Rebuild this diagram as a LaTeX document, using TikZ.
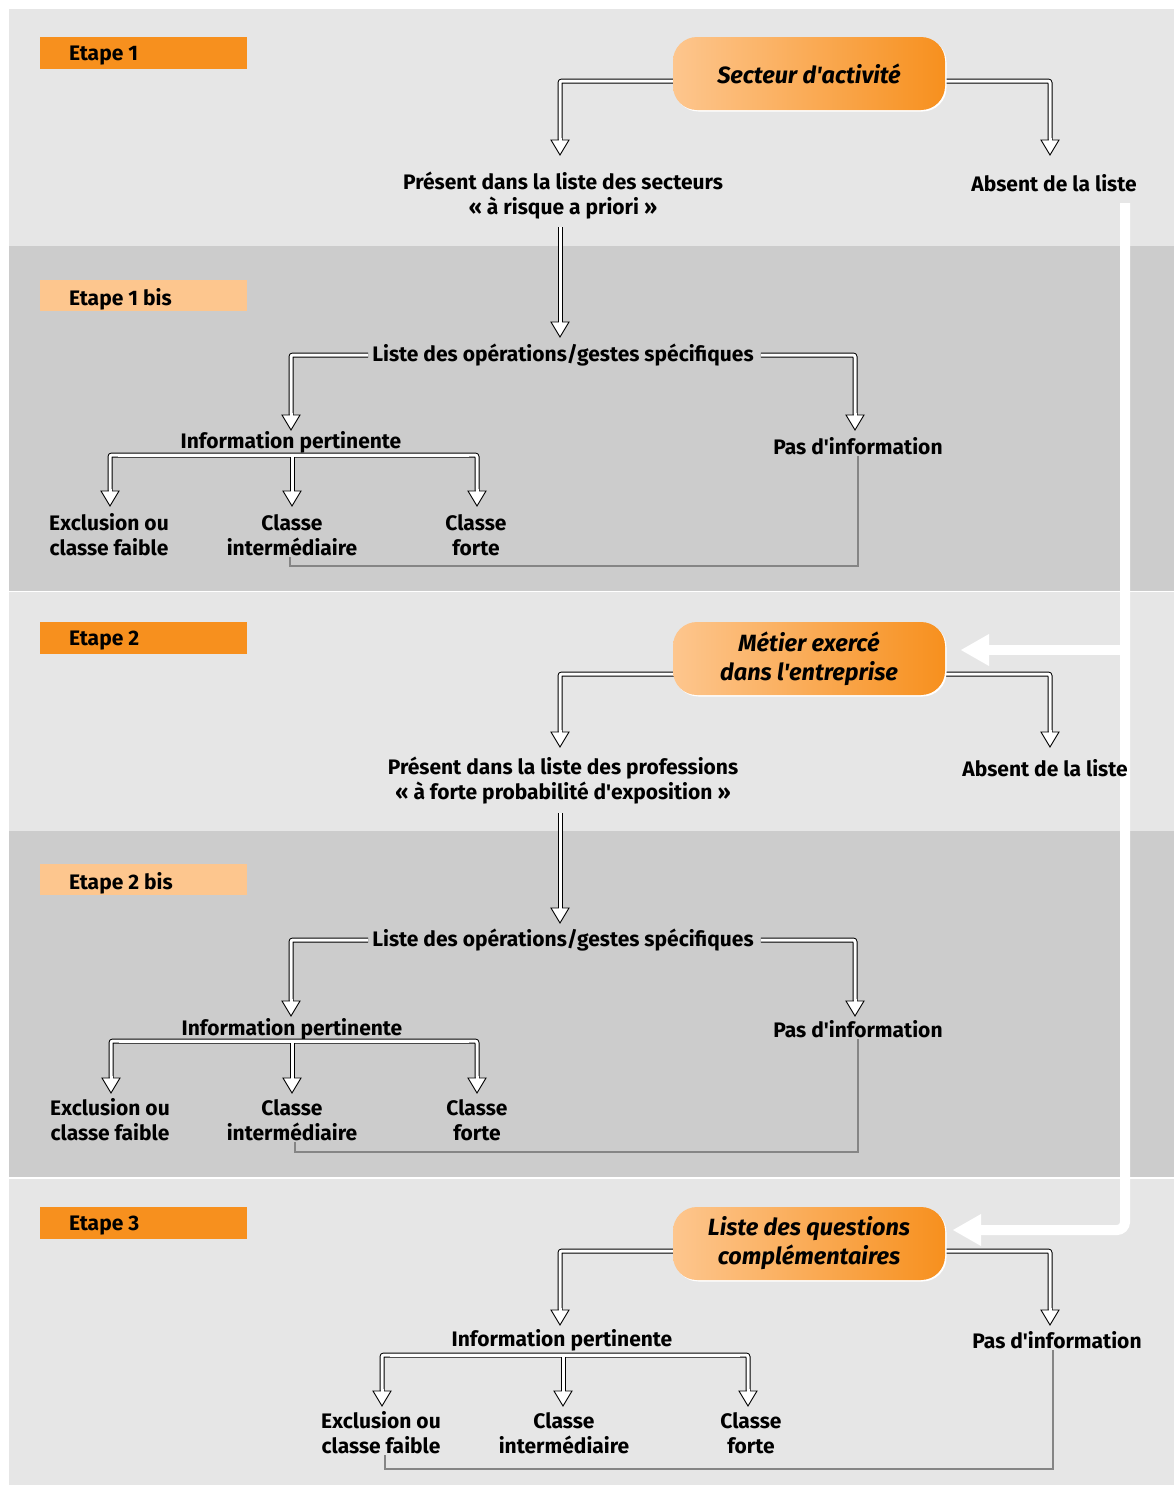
\documentclass[tikz,border=0pt]{standalone}
\usepackage{fontspec}
\setmainfont{Fira Sans}
\newfontface\sqf{Fira Sans Bold}
\newfontface\sqfi{Fira Sans Bold Italic}
\newcommand\ap{{\sqf'}}
\newcommand\api{{\sqfi'}}
\usetikzlibrary{shadows}
\definecolor{bgl}{HTML}{E6E6E6}
\definecolor{bgd}{HTML}{CCCCCC}
\definecolor{org}{HTML}{F7901E}
\definecolor{orgl}{HTML}{FDC68E}
\definecolor{lnk}{HTML}{858585}
\newcommand\dtip[1]{%
  \draw[line width=0.9pt, fill=white, line join=miter] ([shift={(-9pt,15pt)}]#1) -- (#1) -- ([shift={(9pt,15pt)}]#1) -- cycle;
  \draw[white, line width=3pt] ([yshift=17pt]#1) -- ([yshift=13.6pt]#1);}
\begin{document}
\begin{tikzpicture}[x=1pt,y=-1pt,
  lbl/.style={font=\bfseries\fontsize{21}{25}\selectfont, align=center, inner sep=1pt},
  bigbox/.style={rounded corners=24pt, minimum width=272pt, minimum height=73pt,
    left color=orgl, right color=org, align=center,
    font=\bfseries\itshape\fontsize{23.5}{29}\selectfont,
    drop shadow={fill=white, opacity=1, shadow xshift=1.5pt, shadow yshift=-1.5pt}},
  etape/.style={anchor=north west, minimum width=207pt, minimum height=32pt, inner sep=0pt},
  etxt/.style={anchor=west, font=\bfseries\fontsize{21}{24}\selectfont, inner sep=0pt},
  dbl/.style={draw=black, line width=1pt, double=white, double distance=3pt, rounded corners=2pt},
  inw/.style={white, line width=3pt},
  glink/.style={draw=lnk, line width=2pt},
  warr/.style={white, line width=10pt}]
\useasboundingbox (0,0) rectangle (1174,1486);
\fill[white] (0,0) rectangle (1174,1486);
% bands
\fill[bgl] (9,9) rectangle (1174,245.5);
\fill[bgd] (9,245.5) rectangle (1174,590.5);
\fill[bgl] (9,592) rectangle (1174,831);
\fill[bgd] (9,831) rectangle (1174,1177);
\fill[bgl] (9,1178.5) rectangle (1174,1485);
% etapes
\node[etape, fill=org] (e1) at (40,37) {};
\node[etxt] (e1t) at (69,56) {Etape 1};
\node[etape, fill=orgl, minimum height=31pt] (e1b) at (40,280) {};
\node[etxt] (e1bt) at (69,299) {Etape 1 bis};
\node[etape, fill=org] (e2) at (40,622) {};
\node[etxt] (e2t) at (69,641) {Etape 2};
\node[etape, fill=orgl, minimum height=31pt] (e2b) at (40,864) {};
\node[etxt] (e2bt) at (69,883) {Etape 2 bis};
\node[etape, fill=org] (e3) at (40,1207) {};
\node[etxt] (e3t) at (69,1226) {Etape 3};

% ---------- white feedback arrow
\coordinate (w0) at (1125,203);
\coordinate (wq) at (953,1230);
\coordinate (wm) at (961,650);
\draw[warr, rounded corners=8pt] (w0) |- ([xshift=27pt]wq);
\fill[white] (wq) -- ([shift={(28pt,16pt)}]wq) -- ([shift={(28pt,-16pt)}]wq) -- cycle;
\draw[warr] (1125,650) -- ([xshift=27pt]wm);
\fill[white] (wm) -- ([shift={(28pt,16pt)}]wm) -- ([shift={(28pt,-16pt)}]wm) -- cycle;

% ---------- stage 1
\node[lbl] (pres1) at (563,196) {Présent dans la liste des secteurs\\« à risque a priori »};
\node[lbl] (abs1) at (1054,183) {Absent de la liste};
\coordinate (t11) at (560,155);
\coordinate (t12) at (1050,155);
\coordinate (t13) at (560,337);
\draw[dbl] (700,81) -| ([yshift=15pt]t11);
\draw[dbl] (900,81) -| ([yshift=15pt]t12);
\dtip{t11} \dtip{t12}
\node[bigbox] (sect) at (809,73.5) {Secteur d\api activité};
\draw[dbl] (560,227) -- ([yshift=15pt]t13);
\dtip{t13}

% ---------- stage 1 bis
\node[lbl] (lo1) at (563,355) {Liste des opérations/gestes spécifiques};
\node[lbl] (ip1) at (291,442) {Information pertinente};
\node[lbl] (pi1) at (858,446) {Pas d\ap information};
\node[lbl] (ef1) at (109,535) {Exclusion ou\\classe faible};
\node[lbl] (ci1) at (292,535) {Classe\\intermédiaire};
\node[lbl] (cf1) at (476,535) {Classe\\forte};
\coordinate (a11) at (291,430);
\coordinate (a12) at (855,430);
\draw[dbl] ([xshift=-3pt]lo1.west) -| ([yshift=15pt]a11);
\draw[dbl] ([xshift=6pt]lo1.east) -| ([yshift=15pt]a12);
\dtip{a11} \dtip{a12}
\coordinate (b11) at (110,506);
\coordinate (b12) at (292,506);
\coordinate (b13) at (477,506);
\draw[dbl] ([yshift=15pt]b11) -- (110,455) -- (477,455) -- ([yshift=15pt]b13);
\draw[dbl] (292,455) -- ([yshift=15pt]b12);
\draw[inw] (118,455) -- (469,455);
\draw[inw] (292,455) -- ([yshift=15pt]b12);
\dtip{b11} \dtip{b12} \dtip{b13}
\coordinate (g1) at (290,566);
\draw[glink] (pi1.south) |- (g1) -- (g1 |- ci1.south);

% ---------- stage 2
\node[lbl] (pres2) at (563,781) {Présent dans la liste des professions\\« à forte probabilité d\ap exposition »};
\node[lbl] (abs2) at (1045,768) {Absent de la liste};
\coordinate (t21) at (560,747);
\coordinate (t22) at (1050,747);
\coordinate (t23) at (560,923);
\draw[dbl] (700,674) -| ([yshift=15pt]t21);
\draw[dbl] (900,674) -| ([yshift=15pt]t22);
\dtip{t21} \dtip{t22}
\node[bigbox] (met) at (809,658.5) {Métier exercé\\dans l\api entreprise};
\draw[dbl] (560,813) -- ([yshift=15pt]t23);
\dtip{t23}

% ---------- stage 2 bis
\node[lbl] (lo2) at (563,940) {Liste des opérations/gestes spécifiques};
\node[lbl] (ip2) at (292,1029) {Information pertinente};
\node[lbl] (pi2) at (858,1029) {Pas d\ap information};
\node[lbl] (ef2) at (110,1120) {Exclusion ou\\classe faible};
\node[lbl] (ci2) at (292,1120) {Classe\\intermédiaire};
\node[lbl] (cf2) at (477,1120) {Classe\\forte};
\coordinate (a21) at (291,1016);
\coordinate (a22) at (855,1016);
\draw[dbl] ([xshift=-3pt]lo2.west) -| ([yshift=15pt]a21);
\draw[dbl] ([xshift=6pt]lo2.east) -| ([yshift=15pt]a22);
\dtip{a21} \dtip{a22}
\coordinate (b21) at (111,1093);
\coordinate (b22) at (292,1093);
\coordinate (b23) at (477,1093);
\draw[dbl] ([yshift=15pt]b21) -- (111,1041) -- (477,1041) -- ([yshift=15pt]b23);
\draw[dbl] (292,1041) -- ([yshift=15pt]b22);
\draw[inw] (119,1041) -- (469,1041);
\draw[inw] (292,1041) -- ([yshift=15pt]b22);
\dtip{b21} \dtip{b22} \dtip{b23}
\coordinate (g2) at (295,1152);
\draw[glink] (pi2.south) |- (g2) -- (g2 |- ci2.south);

% ---------- stage 3
\node[lbl] (ip3) at (562,1340) {Information pertinente};
\node[lbl] (pi3) at (1057,1340) {Pas d\ap information};
\node[lbl] (ef3) at (381,1433) {Exclusion ou\\classe faible};
\node[lbl] (ci3) at (564,1433) {Classe\\intermédiaire};
\node[lbl] (cf3) at (751,1433) {Classe\\forte};
\coordinate (t31) at (560,1325);
\coordinate (t32) at (1050,1325);
\draw[dbl] (700,1251) -| ([yshift=15pt]t31);
\draw[dbl] (900,1251) -| ([yshift=15pt]t32);
\dtip{t31} \dtip{t32}
\node[bigbox] (quest) at (809,1243.5) {Liste des questions\\complémentaires};
\coordinate (b31) at (382,1406);
\coordinate (b32) at (563,1406);
\coordinate (b33) at (748,1406);
\draw[dbl] ([yshift=15pt]b31) -- (382,1355) -- (748,1355) -- ([yshift=15pt]b33);
\draw[dbl] (563,1355) -- ([yshift=15pt]b32);
\draw[inw] (390,1355) -- (740,1355);
\draw[inw] (563,1355) -- ([yshift=15pt]b32);
\dtip{b31} \dtip{b32} \dtip{b33}
\coordinate (g3) at (385,1469);
\draw[glink] ([xshift=-4pt]pi3.south) |- (g3) -- (g3 |- ef3.south);
\end{tikzpicture}
\end{document}
